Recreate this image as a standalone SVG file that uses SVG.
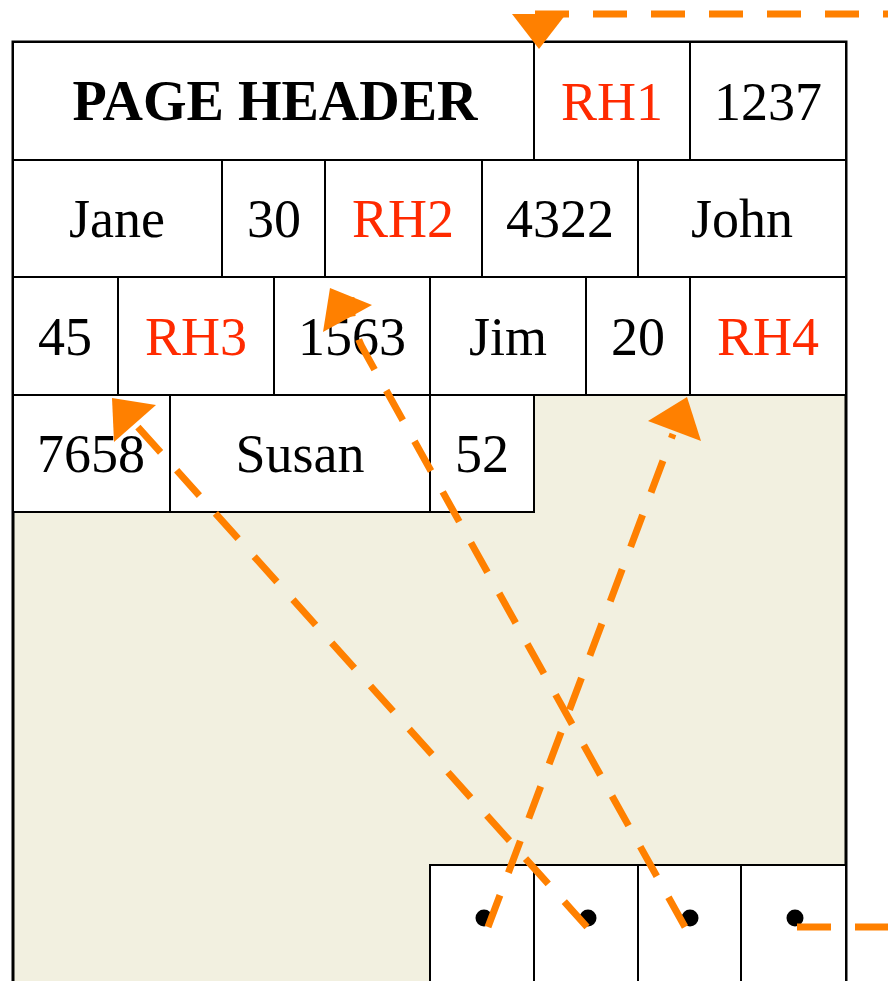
<svg xmlns="http://www.w3.org/2000/svg" width="888" height="981" viewBox="0 0 888 981">
  <style>
    .cell { fill: #ffffff; stroke: #000000; stroke-width: 2; }
    .txt { font-family: "Liberation Serif", "Times New Roman", serif; font-size: 54px; text-anchor: middle; fill: #000000; }
    .hdr { font-weight: bold; font-size: 56px; }
    .red { fill: #ff2a00; }
    .link { fill: none; stroke: #ff8000; stroke-width: 7; stroke-dasharray: 34 24; }
    .head { fill: #ff8000; stroke: none; }
    .dot { fill: #000000; }
  </style>

  <rect x="0" y="0" width="888" height="981" fill="#ffffff"/>

  <!-- page frame with free space -->
  <rect id="page" x="13" y="42" width="833" height="960" fill="#f2f0e0" stroke="#000000" stroke-width="3"/>

  <!-- row 1 -->
  <g id="page-header"><rect class="cell" x="13" y="42" width="521" height="118"/><text class="txt hdr" x="275" y="120">PAGE HEADER</text></g>
  <g id="rh1"><rect class="cell" x="534" y="42" width="156" height="118"/><text class="txt red" x="612" y="120">RH1</text></g>
  <g id="v1237"><rect class="cell" x="690" y="42" width="156" height="118"/><text class="txt" x="768" y="120">1237</text></g>

  <!-- row 2 -->
  <g id="jane"><rect class="cell" x="13" y="160" width="209" height="117"/><text class="txt" x="117" y="237">Jane</text></g>
  <g id="v30"><rect class="cell" x="222" y="160" width="103" height="117"/><text class="txt" x="274" y="237">30</text></g>
  <g id="rh2"><rect class="cell" x="325" y="160" width="157" height="117"/><text class="txt red" x="403" y="237">RH2</text></g>
  <g id="v4322"><rect class="cell" x="482" y="160" width="156" height="117"/><text class="txt" x="560" y="237">4322</text></g>
  <g id="john"><rect class="cell" x="638" y="160" width="208" height="117"/><text class="txt" x="742" y="237">John</text></g>

  <!-- row 3 -->
  <g id="v45"><rect class="cell" x="13" y="277" width="105" height="118"/><text class="txt" x="65" y="355">45</text></g>
  <g id="rh3"><rect class="cell" x="118" y="277" width="156" height="118"/><text class="txt red" x="196" y="355">RH3</text></g>
  <g id="v1563"><rect class="cell" x="274" y="277" width="156" height="118"/><text class="txt" x="352" y="355">1563</text></g>
  <g id="jim"><rect class="cell" x="430" y="277" width="156" height="118"/><text class="txt" x="508" y="355">Jim</text></g>
  <g id="v20"><rect class="cell" x="586" y="277" width="104" height="118"/><text class="txt" x="638" y="355">20</text></g>
  <g id="rh4"><rect class="cell" x="690" y="277" width="156" height="118"/><text class="txt red" x="768" y="355">RH4</text></g>

  <!-- row 4 -->
  <g id="v7658"><rect class="cell" x="13" y="395" width="157" height="117"/><text class="txt" x="91" y="472">7658</text></g>
  <g id="susan"><rect class="cell" x="170" y="395" width="260" height="117"/><text class="txt" x="300" y="472">Susan</text></g>
  <g id="v52"><rect class="cell" x="430" y="395" width="104" height="117"/><text class="txt" x="482" y="472">52</text></g>

  <!-- slot array at the page bottom -->
  <g id="slot1"><rect class="cell" x="430" y="865" width="104" height="140"/><circle class="dot" cx="484" cy="918" r="8.5"/></g>
  <g id="slot2"><rect class="cell" x="534" y="865" width="104" height="140"/><circle class="dot" cx="588" cy="918" r="8.5"/></g>
  <g id="slot3"><rect class="cell" x="638" y="865" width="103" height="140"/><circle class="dot" cx="690" cy="918" r="8.5"/></g>
  <g id="slot4"><rect class="cell" x="741" y="865" width="105" height="140"/><circle class="dot" cx="795" cy="918" r="8.5"/></g>

  <!-- slot pointers -->
  <g id="connectors">
    <path class="link" d="M488,927 L673,434"/>
    <polygon class="head" points="687,397 648,421 701,441"/>

    <path class="link" d="M587,927 L136,425"/>
    <polygon class="head" points="112,398 156,405 114,442"/>

    <path class="link" d="M685,927 L362,347 Q350,322 351,297"/>
    <polygon class="head" points="323,332 330,288 372,305"/>

    <path class="link" d="M797,927 H892"/>
    <path class="link" d="M535,14 H892"/>
    <polygon class="head" points="539,49 512,14 566,14"/>
  </g>
</svg>
